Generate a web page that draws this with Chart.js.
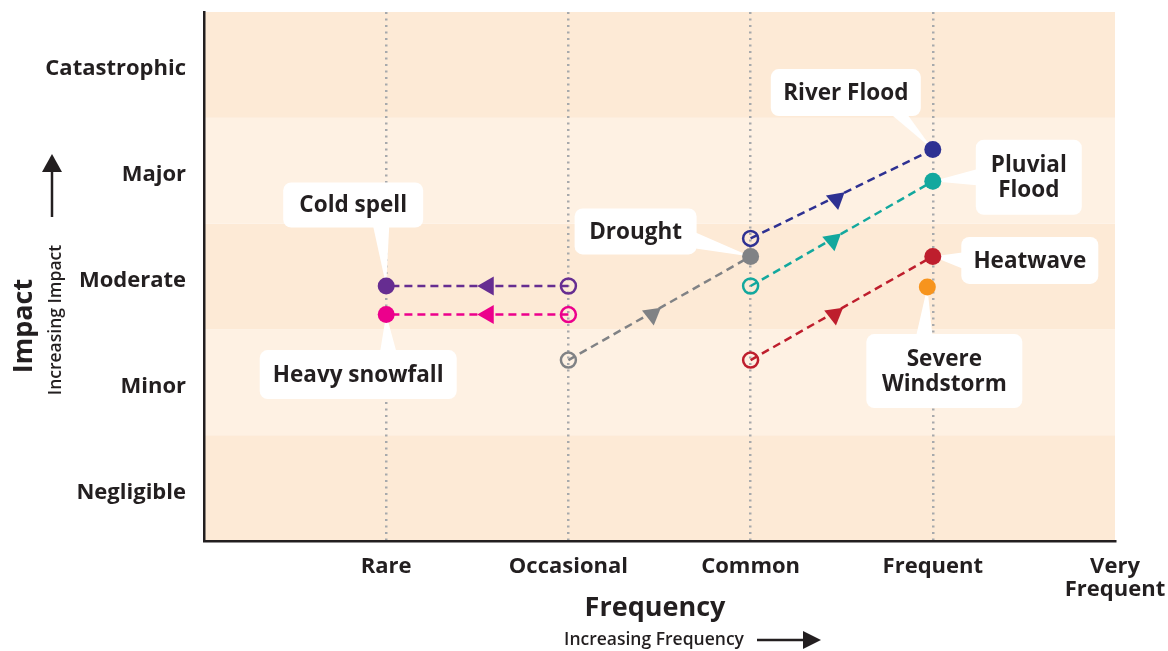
<!DOCTYPE html>
<html>
<head>
<meta charset="utf-8">
<script src="https://cdn.jsdelivr.net/npm/chart.js"></script>
<style>
  body { margin: 0; background: #fff; }
</style>
</head>
<body>
<canvas id="riskChart" width="1168" height="651"></canvas>
<script>
  // axis categories
  const freqLabels = ['', 'Rare', 'Occasional', 'Common', 'Frequent', ['Very', 'Frequent']];
  const impactLabels = ['Negligible', 'Minor', 'Moderate', 'Major', 'Catastrophic'];

  // hazards that move (open circle -> filled circle)
  const hazards = ['Cold spell', 'Heavy snowfall', 'Drought', 'River Flood', 'Pluvial Flood', 'Heatwave'];
  const fromFreq = [2, 2, 2, 3, 3, 3];
  const fromImpact = [2.41, 2.14, 1.71, 2.86, 2.41, 1.71];
  const toFreq = [1, 1, 3, 4, 4, 4];
  const toImpact = [2.41, 2.14, 2.69, 3.70, 3.40, 2.69];
  const arrowFreq = [1.56, 1.56, 2.46, 3.47, 3.45, 3.46];
  const arrowImpact = [2.41, 2.14, 2.14, 3.23, 2.84, 2.14];

  // hazard that stays put
  const windstormFreq = 3.97;
  const windstormImpact = 2.40;

  const colors = ['#662d91', '#ec008c', '#808285', '#2e3192', '#13a89e', '#be1e2d'];
  const windstormColor = '#f7941d';
  const arrowRotation = [270, 270, 172, 170, 170, 172];

  const ink = '#231f20';
  const font = 'Open Sans';

  const datasets = [];
  hazards.forEach((name, i) => {
    datasets.push({
      label: name + ' trend',
      data: [{x: arrowFreq[i], y: arrowImpact[i]}],
      pointStyle: 'triangle',
      rotation: arrowRotation[i],
      pointRadius: 11,
      pointBackgroundColor: colors[i],
      pointBorderWidth: 0,
      order: 0
    });
    datasets.push({
      label: name,
      data: [{x: fromFreq[i], y: fromImpact[i]}, {x: toFreq[i], y: toImpact[i]}],
      showLine: true,
      borderColor: colors[i],
      borderWidth: 2.5,
      borderDash: [8, 5],
      pointRadius: [7.5, 8.5],
      pointBorderWidth: [2.5, 0],
      pointBorderColor: colors[i],
      pointBackgroundColor: ['rgba(0,0,0,0)', colors[i]],
      order: 1
    });
  });
  datasets.push({
    label: 'Severe Windstorm',
    data: [{x: windstormFreq, y: windstormImpact}],
    pointRadius: 8.5,
    pointBorderWidth: 0,
    pointBackgroundColor: windstormColor,
    order: 0
  });

  // callout boxes: text, box offset from its point, box size, wedge side/offset
  const callouts = [
    {text: ['Cold spell'], ds: 1, pt: 1, dx: -33, dy: -81, w: 140, h: 45, side: 'bottom', b: 28},
    {text: ['Heavy snowfall'], ds: 3, pt: 1, dx: -28, dy: 60, w: 197, h: 49, side: 'top', b: 30},
    {text: ['Drought'], ds: 5, pt: 1, dx: -115, dy: -25, w: 122, h: 46, side: 'right', b: 9},
    {text: ['River Flood'], ds: 7, pt: 1, dx: -87, dy: -57, w: 150, h: 47, side: 'bottom', b: 54},
    {text: ['Pluvial', 'Flood'], ds: 9, pt: 1, dx: 96, dy: -4, w: 106, h: 75, side: 'left', b: 0},
    {text: ['Heatwave'], ds: 11, pt: 1, dx: 97, dy: 4, w: 137, h: 47, side: 'left', b: 0},
    {text: ['Severe', 'Windstorm'], ds: 12, pt: 0, dx: 17, dy: 84, w: 156, h: 74, side: 'top', b: -20}
  ];

  const bandPlugin = {
    id: 'bands',
    beforeDraw(chart) {
      const {ctx, chartArea} = chart;
      const y = chart.scales.y;
      ctx.save();
      for (let i = 0; i < impactLabels.length; i++) {
        const top = y.getPixelForValue(i + 1);
        const bottom = y.getPixelForValue(i);
        ctx.fillStyle = i % 2 === 0 ? '#fdead6' : '#fef1e3';
        ctx.fillRect(chartArea.left, top, chartArea.right - chartArea.left, bottom - top);
      }
      ctx.restore();
    }
  };

  const calloutPlugin = {
    id: 'callouts',
    beforeDatasetsDraw(chart) {
      const ctx = chart.ctx;
      ctx.save();
      callouts.forEach(c => {
        const el = chart.getDatasetMeta(c.ds).data[c.pt];
        const px = el.x, py = el.y;
        const cx = px + c.dx, cy = py + c.dy;
        const l = cx - c.w / 2, t = cy - c.h / 2;
        ctx.fillStyle = '#fff';
        ctx.beginPath();
        ctx.roundRect(l, t, c.w, c.h, 8);
        ctx.fill();
        // wedge pointing to the marker
        ctx.beginPath();
        if (c.side === 'bottom' || c.side === 'top') {
          const ey = c.side === 'bottom' ? t + c.h - 1 : t + 1;
          ctx.moveTo(cx + c.b - 8, ey);
          ctx.lineTo(cx + c.b + 8, ey);
        } else {
          const ex = c.side === 'right' ? l + c.w - 1 : l + 1;
          ctx.moveTo(ex, cy + c.b - 8);
          ctx.lineTo(ex, cy + c.b + 8);
        }
        ctx.lineTo(px, py);
        ctx.closePath();
        ctx.fill();
        ctx.fillStyle = ink;
        ctx.font = 'bold 22.5px "' + font + '"';
        ctx.textAlign = 'center';
        ctx.textBaseline = 'middle';
        const lh = 25;
        c.text.forEach((line, k) => {
          ctx.fillText(line, cx, cy + (k - (c.text.length - 1) / 2) * lh + 1);
        });
      });
      ctx.restore();
    }
  };

  const titlePlugin = {
    id: 'axisTitles',
    afterDraw(chart) {
      const {ctx} = chart;
      ctx.save();
      ctx.fillStyle = ink;
      ctx.strokeStyle = ink;
      ctx.textAlign = 'center';
      ctx.textBaseline = 'middle';

      // y title
      ctx.save();
      ctx.translate(24, 326);
      ctx.rotate(-Math.PI / 2);
      ctx.font = 'bold 27px "' + font + '"';
      ctx.fillText('Impact', 0, 0);
      ctx.restore();
      ctx.save();
      ctx.translate(56, 320);
      ctx.rotate(-Math.PI / 2);
      ctx.font = '600 17.5px "' + font + '"';
      ctx.fillText('Increasing Impact', 0, 0);
      ctx.restore();
      ctx.lineWidth = 2.5;
      ctx.beginPath();
      ctx.moveTo(52, 217);
      ctx.lineTo(52, 168);
      ctx.stroke();
      ctx.beginPath();
      ctx.moveTo(52, 154);
      ctx.lineTo(62, 172);
      ctx.lineTo(42, 172);
      ctx.closePath();
      ctx.fill();

      // x title
      ctx.font = 'bold 27px "' + font + '"';
      ctx.fillText('Frequency', 655, 608);
      ctx.font = '600 17.5px "' + font + '"';
      ctx.fillText('Increasing Frequency', 654, 640);
      ctx.beginPath();
      ctx.moveTo(757, 640);
      ctx.lineTo(805, 640);
      ctx.stroke();
      ctx.beginPath();
      ctx.moveTo(821, 640);
      ctx.lineTo(803, 631);
      ctx.lineTo(803, 649);
      ctx.closePath();
      ctx.fill();
      ctx.restore();
    }
  };

  new Chart(document.getElementById('riskChart'), {
    type: 'scatter',
    data: {datasets: datasets},
    options: {
      responsive: false,
      animation: false,
      layout: {padding: {top: 12, right: 53, bottom: 0, left: 0}},
      plugins: {legend: {display: false}, tooltip: {enabled: false}},
      scales: {
        x: {
          type: 'linear',
          min: 0,
          max: 5,
          afterFit(scale) {
            scale.height = 110;
            scale.paddingLeft = 0;
            scale.paddingRight = 0;
          },
          ticks: {
            stepSize: 1,
            padding: 14,
            color: ink,
            font: {family: font, size: 22, weight: 'bold', lineHeight: 1.05},
            callback: v => freqLabels[v]
          },
          grid: {
            drawTicks: false,
            lineWidth: 2.5,
            color: c => (c.tick && c.tick.value >= 1 && c.tick.value <= 4) ? '#a7a9ac' : 'rgba(0,0,0,0)'
          },
          border: {color: ink, width: 2.5, dash: [2, 4.5]}
        },
        y: {
          type: 'linear',
          min: 0,
          max: 5,
          afterFit(scale) {
            scale.width = 204;
            scale.paddingTop = 0;
            scale.paddingBottom = 0;
          },
          afterBuildTicks(scale) {
            // labels sit a touch below the band centre in the original
            scale.ticks = impactLabels.map((_, i) => ({value: i + 0.46}));
          },
          ticks: {
            padding: 18,
            color: ink,
            font: {family: font, size: 22, weight: 'bold'},
            callback: v => impactLabels[Math.floor(v)]
          },
          grid: {display: false, drawTicks: false},
          border: {color: ink, width: 2.5}
        }
      }
    },
    plugins: [bandPlugin, calloutPlugin, titlePlugin]
  });
</script>
</body>
</html>
